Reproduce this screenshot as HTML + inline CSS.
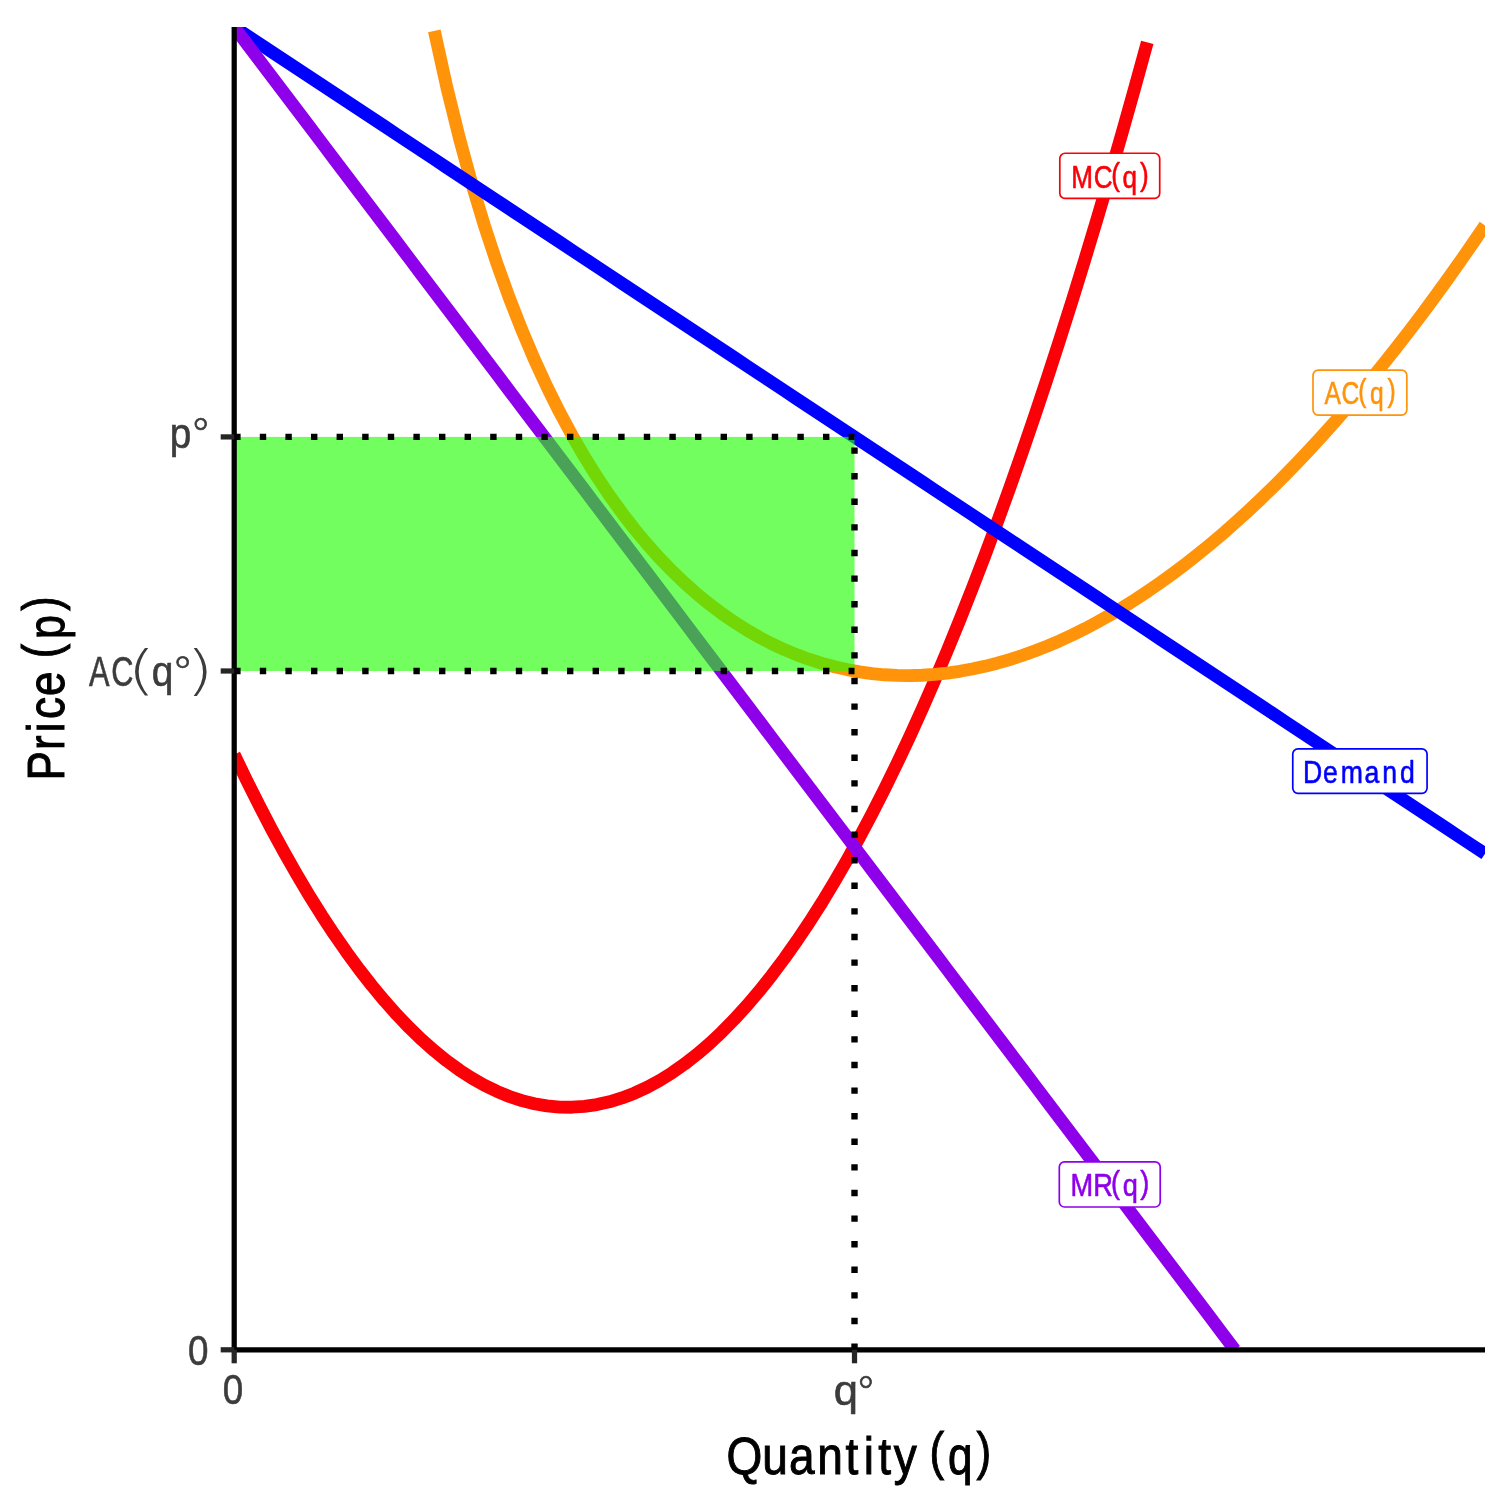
<!DOCTYPE html>
<html lang="en"><head><meta charset="utf-8"><title>Monopoly profit</title>
<style>html,body{margin:0;padding:0;background:#fff}svg{display:block}</style></head>
<body>
<svg width="1512" height="1512" viewBox="0 0 1512 1512" font-family="'Liberation Sans', Arial, sans-serif">
<rect width="1512" height="1512" fill="#fff"/>
<defs><clipPath id="panel"><rect x="234.2" y="27.0" width="1250.8" height="1322.8"/></clipPath></defs>
<g clip-path="url(#panel)" fill="none" stroke-linejoin="round" stroke-linecap="butt">
<polyline points="234.20,754.54 246.71,780.50 259.22,805.47 271.72,829.44 284.23,852.43 296.74,874.42 309.25,895.42 321.76,915.43 334.26,934.44 346.77,952.46 359.28,969.50 371.79,985.53 384.30,1000.58 396.80,1014.64 409.31,1027.70 421.82,1039.77 434.33,1050.85 446.84,1060.93 459.34,1070.03 471.85,1078.13 484.36,1085.24 496.87,1091.36 509.38,1096.48 521.88,1100.62 534.39,1103.76 546.90,1105.91 559.41,1107.07 571.92,1107.23 584.42,1106.40 596.93,1104.59 609.44,1101.78 621.95,1097.97 634.46,1093.18 646.96,1087.39 659.47,1080.61 671.98,1072.84 684.49,1064.08 697.00,1054.32 709.50,1043.57 722.01,1031.83 734.52,1019.10 747.03,1005.38 759.54,990.66 772.04,974.95 784.55,958.25 797.06,940.56 809.57,921.87 822.08,902.20 834.58,881.53 847.09,859.87 859.60,837.21 872.11,813.57 884.62,788.93 897.12,763.30 909.63,736.68 922.14,709.07 934.65,680.46 947.16,650.87 959.66,620.28 972.17,588.69 984.68,556.12 997.19,522.55 1009.70,488.00 1022.20,452.45 1034.71,415.90 1047.22,378.37 1059.73,339.84 1072.24,300.32 1084.74,259.81 1097.25,218.31 1109.76,175.82 1122.27,132.33 1134.78,87.85 1147.28,42.38" stroke="#FB0007" stroke-width="12.8"/>
<polyline points="434.33,30.97 446.84,87.37 459.34,138.04 471.85,183.83 484.36,225.42 496.87,263.36 509.38,298.11 521.88,330.04 534.39,359.46 546.90,386.64 559.41,411.78 571.92,435.09 584.42,456.72 596.93,476.81 609.44,495.49 621.95,512.86 634.46,529.00 646.96,544.01 659.47,557.95 671.98,570.88 684.49,582.87 697.00,593.96 709.50,604.19 722.01,613.62 734.52,622.26 747.03,630.16 759.54,637.35 772.04,643.84 784.55,649.68 797.06,654.87 809.57,659.44 822.08,663.41 834.58,666.79 847.09,669.61 859.60,671.87 872.11,673.58 884.62,674.76 897.12,675.43 909.63,675.59 922.14,675.25 934.65,674.42 947.16,673.10 959.66,671.32 972.17,669.07 984.68,666.35 997.19,663.19 1009.70,659.58 1022.20,655.52 1034.71,651.03 1047.22,646.11 1059.73,640.76 1072.24,634.99 1084.74,628.80 1097.25,622.19 1109.76,615.17 1122.27,607.75 1134.78,599.92 1147.28,591.69 1159.79,583.06 1172.30,574.03 1184.81,564.61 1197.32,554.80 1209.82,544.60 1222.33,534.02 1234.84,523.05 1247.35,511.70 1259.86,499.97 1272.36,487.85 1284.87,475.37 1297.38,462.50 1309.89,449.27 1322.40,435.66 1334.90,421.68 1347.41,407.33 1359.92,392.61 1372.43,377.52 1384.94,362.07 1397.44,346.26 1409.95,330.08 1422.46,313.53 1434.97,296.63 1447.48,279.37 1459.98,261.74 1472.49,243.76 1485.00,225.42" stroke="#FF930A" stroke-width="12.8"/>
<polyline points="234.20,27.00 246.71,35.27 259.22,43.53 271.72,51.80 284.23,60.07 296.74,68.34 309.25,76.61 321.76,84.87 334.26,93.14 346.77,101.41 359.28,109.67 371.79,117.94 384.30,126.21 396.80,134.48 409.31,142.75 421.82,151.01 434.33,159.28 446.84,167.55 459.34,175.82 471.85,184.08 484.36,192.35 496.87,200.62 509.38,208.88 521.88,217.15 534.39,225.42 546.90,233.69 559.41,241.95 571.92,250.22 584.42,258.49 596.93,266.76 609.44,275.03 621.95,283.29 634.46,291.56 646.96,299.83 659.47,308.10 671.98,316.36 684.49,324.63 697.00,332.90 709.50,341.17 722.01,349.43 734.52,357.70 747.03,365.97 759.54,374.23 772.04,382.50 784.55,390.77 797.06,399.04 809.57,407.31 822.08,415.57 834.58,423.84 847.09,432.11 859.60,440.38 872.11,448.64 884.62,456.91 897.12,465.18 909.63,473.45 922.14,481.71 934.65,489.98 947.16,498.25 959.66,506.51 972.17,514.78 984.68,523.05 997.19,531.32 1009.70,539.58 1022.20,547.85 1034.71,556.12 1047.22,564.39 1059.73,572.66 1072.24,580.92 1084.74,589.19 1097.25,597.46 1109.76,605.73 1122.27,613.99 1134.78,622.26 1147.28,630.53 1159.79,638.79 1172.30,647.06 1184.81,655.33 1197.32,663.60 1209.82,671.87 1222.33,680.13 1234.84,688.40 1247.35,696.67 1259.86,704.94 1272.36,713.20 1284.87,721.47 1297.38,729.74 1309.89,738.00 1322.40,746.27 1334.90,754.54 1347.41,762.81 1359.92,771.07 1372.43,779.34 1384.94,787.61 1397.44,795.88 1409.95,804.14 1422.46,812.41 1434.97,820.68 1447.48,828.95 1459.98,837.22 1472.49,845.48 1485.00,853.75" stroke="#0000FF" stroke-width="12.8"/>
<polyline points="234.20,27.00 246.71,43.53 259.22,60.07 271.72,76.61 284.23,93.14 296.74,109.67 309.25,126.21 321.76,142.75 334.26,159.28 346.77,175.82 359.28,192.35 371.79,208.88 384.30,225.42 396.80,241.95 409.31,258.49 421.82,275.03 434.33,291.56 446.84,308.10 459.34,324.63 471.85,341.17 484.36,357.70 496.87,374.23 509.38,390.77 521.88,407.31 534.39,423.84 546.90,440.38 559.41,456.91 571.92,473.45 584.42,489.98 596.93,506.51 609.44,523.05 621.95,539.58 634.46,556.12 646.96,572.66 659.47,589.19 671.98,605.73 684.49,622.26 697.00,638.79 709.50,655.33 722.01,671.87 734.52,688.40 747.03,704.94 759.54,721.47 772.04,738.00 784.55,754.54 797.06,771.07 809.57,787.61 822.08,804.14 834.58,820.68 847.09,837.22 859.60,853.75 872.11,870.29 884.62,886.82 897.12,903.36 909.63,919.89 922.14,936.42 934.65,952.96 947.16,969.50 959.66,986.03 972.17,1002.57 984.68,1019.10 997.19,1035.63 1009.70,1052.17 1022.20,1068.71 1034.71,1085.24 1047.22,1101.78 1059.73,1118.31 1072.24,1134.85 1084.74,1151.38 1097.25,1167.91 1109.76,1184.45 1122.27,1200.99 1134.78,1217.52 1147.28,1234.06 1159.79,1250.59 1172.30,1267.12 1184.81,1283.66 1197.32,1300.19 1209.82,1316.73 1222.33,1333.27 1234.84,1349.80" stroke="#8F00EA" stroke-width="12.8"/>
<rect x="234.2" y="436.91" width="620.31" height="234.07" fill="#22FE05" fill-opacity="0.635" stroke="none"/>
<g stroke="#000" stroke-width="6.4" stroke-dasharray="6.4 19.2">
<line x1="234.2" y1="436.91" x2="854.51" y2="436.91"/>
<line x1="234.2" y1="670.99" x2="854.51" y2="670.99"/>
<line x1="854.51" y1="1349.8" x2="854.51" y2="436.91"/>
</g>
<rect x="1059.81" y="153.27" width="99.90" height="45.10" rx="5.2" ry="5.2" fill="#fff" stroke="#FB0007" stroke-width="1.7"/>
<text transform="translate(0,187.90) scale(0.8123,1.0000)" x="1318.65 1346.45 1367.89 1381.87 1403.36" y="0.00 0.00 -2.99 0.00 -2.99" font-size="32.14" fill="#FB0007" stroke="#FB0007" stroke-width="0.6">MC(q)</text>
<rect x="1313.02" y="370.16" width="93.80" height="44.90" rx="5.2" ry="5.2" fill="#fff" stroke="#FF930A" stroke-width="1.7"/>
<text transform="translate(0,403.80) scale(0.7666,1.0000)" x="1727.71 1749.84 1771.77 1787.05 1809.97" y="0.00 0.00 -2.99 0.00 -2.99" font-size="32.14" fill="#FF930A" stroke="#FF930A" stroke-width="0.6">AC(q)</text>
<rect x="1292.77" y="748.82" width="134.30" height="44.50" rx="5.2" ry="5.2" fill="#fff" stroke="#0000FF" stroke-width="1.7"/>
<text transform="translate(0,782.70) scale(0.8285,1.0000)" x="1572.80 1596.93 1618.33 1646.97 1668.45 1689.89" y="0" font-size="32.14" fill="#0000FF" stroke="#0000FF" stroke-width="0.6">Demand</text>
<rect x="1059.31" y="1161.90" width="100.90" height="45.10" rx="5.2" ry="5.2" fill="#fff" stroke="#8F00EA" stroke-width="1.7"/>
<text transform="translate(0,1195.90) scale(0.8460,1.0000)" x="1265.35 1292.15 1313.38 1327.13 1347.69" y="0.00 0.00 -2.99 0.00 -2.99" font-size="32.14" fill="#8F00EA" stroke="#8F00EA" stroke-width="0.6">MR(q)</text>
</g>
<g stroke="#000" stroke-width="5.24" fill="none">
<line x1="234.2" y1="27.0" x2="234.2" y2="1349.8"/>
<line x1="234.2" y1="1349.8" x2="1485.0" y2="1349.8"/>
</g>
<g stroke="#262626" stroke-width="5.24" fill="none">
<line x1="220.7" y1="436.91" x2="234.2" y2="436.91"/>
<line x1="220.7" y1="670.99" x2="234.2" y2="670.99"/>
<line x1="220.7" y1="1349.8" x2="234.2" y2="1349.8"/>
<line x1="234.2" y1="1349.8" x2="234.2" y2="1363.3"/>
<line x1="854.51" y1="1349.8" x2="854.51" y2="1363.3"/>
</g>
<g fill="#3C3C3C">
<text transform="translate(0,1365.00) scale(0.8695,1.0000)" x="216.28" y="0" font-size="42.34" stroke="#3C3C3C" stroke-width="0.6">0</text>
<text transform="translate(0,1404.20) scale(0.8695,1.0000)" x="256.19" y="0" font-size="42.34" stroke="#3C3C3C" stroke-width="0.6">0</text>
<g><text transform="translate(0,448.00) scale(0.9138,1.0000)" x="185.83" y="0" font-size="42.34" stroke="#3C3C3C" stroke-width="0.6">p</text><text transform="translate(0,450.24) scale(0.9721,1.0000)" x="195.21" y="0" font-size="45.20" stroke="#3C3C3C" stroke-width="0.7" font-family="'DejaVu Sans', 'Liberation Sans', sans-serif" font-weight="200">°</text></g>
<g><text transform="translate(0,685.70) scale(0.7269,1.0000)" x="122.29 153.11" y="0" font-size="42.34" stroke="#3C3C3C" stroke-width="0.6">AC</text><text transform="translate(0,688.96) scale(1.3803,1.0000)" x="92.11" y="0" font-size="53.40" font-family="'DejaVu Sans', 'Liberation Sans', sans-serif" font-weight="200">(</text><text transform="translate(0,685.70) scale(0.9180,1.0000)" x="165.32" y="0" font-size="42.34" stroke="#3C3C3C" stroke-width="0.6">q</text><text transform="translate(0,686.95) scale(1.0392,1.0000)" x="165.02" y="0" font-size="43.00" stroke="#3C3C3C" stroke-width="0.7" font-family="'DejaVu Sans', 'Liberation Sans', sans-serif" font-weight="200">°</text><text transform="translate(0,688.96) scale(1.3592,1.0000)" x="136.75" y="0" font-size="53.40" font-family="'DejaVu Sans', 'Liberation Sans', sans-serif" font-weight="200">)</text></g>
<g><text transform="translate(0,1405.00) scale(1.0282,1.0000)" x="811.01" y="0" font-size="42.34" stroke="#3C3C3C" stroke-width="0.6">q</text><text transform="translate(0,1407.63) scale(0.9539,1.0000)" x="896.55" y="0" font-size="44.50" stroke="#3C3C3C" stroke-width="0.7" font-family="'DejaVu Sans', 'Liberation Sans', sans-serif" font-weight="200">°</text></g>
</g>
<g fill="#000">
<text transform="translate(0,1473.70) scale(0.8759,1.0000)" x="829.58 870.31 900.83 933.13 965.29 986.03 1002.62 1020.26" y="0" font-size="52.57" stroke="#000" stroke-width="1.0">Quantity</text>
<text transform="translate(0,1473.70) scale(0.8381,1.0000)" x="1108.96 1131.16 1165.01" y="-4.89 0.00 -4.89" font-size="52.57" stroke="#000" stroke-width="1.0">(q)</text>
<g transform="translate(63.75,0) rotate(-90)">
<text transform="translate(0,0.00) scale(0.8380,1.0000)" x="-931.42 -894.96 -873.78 -858.13 -830.49" y="0" font-size="52.57" stroke="#000" stroke-width="1.0">Price</text>
<text transform="translate(0,0.00) scale(0.8191,1.0000)" x="-803.58 -780.18 -745.57" y="-4.89 0.00 -4.89" font-size="52.57" stroke="#000" stroke-width="1.0">(p)</text>
</g>
</g>
</svg>
</body></html>
